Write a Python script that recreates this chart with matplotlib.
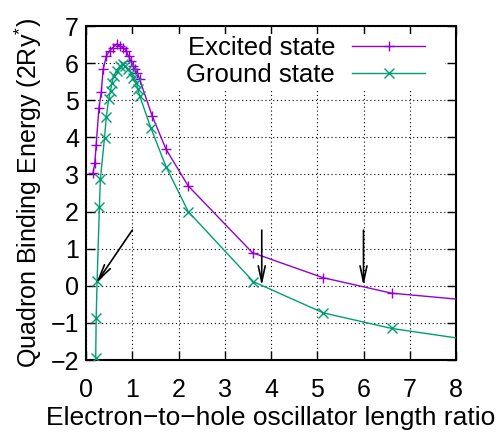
import matplotlib
matplotlib.use("Agg")
import matplotlib.pyplot as plt
from matplotlib.patches import Rectangle

plt.rcParams['font.family'] = ['Liberation Sans', 'DejaVu Sans']
plt.rcParams['mathtext.fontset'] = 'custom'
plt.rcParams['mathtext.rm'] = 'Liberation Sans'
plt.rcParams['mathtext.it'] = 'Liberation Sans'

# Excited state (purple, +)
excited_x = [0.15, 0.19, 0.22, 0.28, 0.33, 0.37, 0.44, 0.51, 0.58, 0.66, 0.73, 0.80,
             0.87, 0.92, 0.97, 1.02, 1.05, 1.11, 1.16, 1.43, 1.73, 2.21, 3.60, 5.12,
             6.61, 8.2]
excited_e = [3.03, 3.30, 3.79, 4.80, 5.21, 5.83, 6.19, 6.33, 6.42, 6.51, 6.46, 6.42,
             6.33, 6.18, 6.06, 5.92, 5.83, 5.74, 5.56, 4.58, 3.68, 2.69, 0.89, 0.22,
             -0.20, -0.38]

# Ground state (green, x)
ground_x = [0.21, 0.22, 0.24, 0.29, 0.31, 0.40, 0.44, 0.49, 0.53, 0.56, 0.60, 0.66,
            0.73, 0.80, 0.85, 0.91, 0.97, 1.02, 1.09, 1.12, 1.16, 1.40, 1.73, 2.21,
            3.62, 5.13, 6.61, 8.2]
ground_e = [-1.95, -0.86, 0.13, 2.13, 2.87, 3.98, 4.56, 5.03, 5.25, 5.47, 5.66, 5.79,
            5.92, 5.97, 5.92, 5.83, 5.74, 5.61, 5.47, 5.30, 5.12, 4.26, 3.21, 2.00,
            0.11, -0.73, -1.15, -1.44]

# arrows: (tail x, tail y, head x, head y)
arrows = [(1.0, 1.5, 0.22, 0.07), (3.8, 1.5, 3.8, 0.0), (6.0, 1.5, 6.0, 0.0)]

fig = plt.figure(figsize=(5.01, 4.41), dpi=100)
ax = fig.add_axes([86 / 501, 81 / 441, 370 / 501, 334 / 441])

ax.plot(excited_x, excited_e, color='#9400D3', lw=1.0, marker='+', ms=7, mew=1.0,
        label='Excited state', zorder=3)
ax.plot(ground_x, ground_e, color='#009E73', lw=1.0, marker='x', ms=6.5, mew=1.0,
        label='Ground state', zorder=3)

for x0, y0, x1, y1 in arrows:
    ax.annotate('', xy=(x1, y1), xytext=(x0, y0),
                arrowprops=dict(arrowstyle='->,head_length=1.15,head_width=0.25',
                                color='black', lw=1.2, shrinkA=0, shrinkB=0,
                                mutation_scale=10), zorder=4)

ax.set_xlim(0, 8)
ax.set_ylim(-2, 7)
ax.set_xticks(range(0, 9))
ax.set_yticks(range(-2, 8))
ax.set_axisbelow(True)
ax.grid(True, color='black', lw=0.8, linestyle=(0, (1, 2.5)))
ax.tick_params(direction='in', length=6.5, width=1.0, top=True, right=True,
               labelsize=18)
ax.tick_params(axis='x', pad=13)
ax.tick_params(axis='y', pad=5)
for s in ax.spines.values():
    s.set_linewidth(1.5)

# white key box hiding the grid
ax.add_patch(Rectangle((0.12, 0.81), 0.85, 0.165, transform=ax.transAxes,
                       facecolor='white', edgecolor='none', zorder=1))

ax.set_xlabel('Electron\u2212to\u2212hole oscillator length ratio', fontsize=19,
              labelpad=3)
ax.set_ylabel('Quadron Binding Energy (2Ry$^{*}$)', fontsize=18, labelpad=5)

ax.legend(loc='upper right', bbox_to_anchor=(0.916, 0.970), frameon=False,
          markerfirst=False, fontsize=18.5, handlelength=2.83, handletextpad=0.66,
          borderpad=0, borderaxespad=0, labelspacing=0.12)

fig.savefig('out.png', dpi=100)
